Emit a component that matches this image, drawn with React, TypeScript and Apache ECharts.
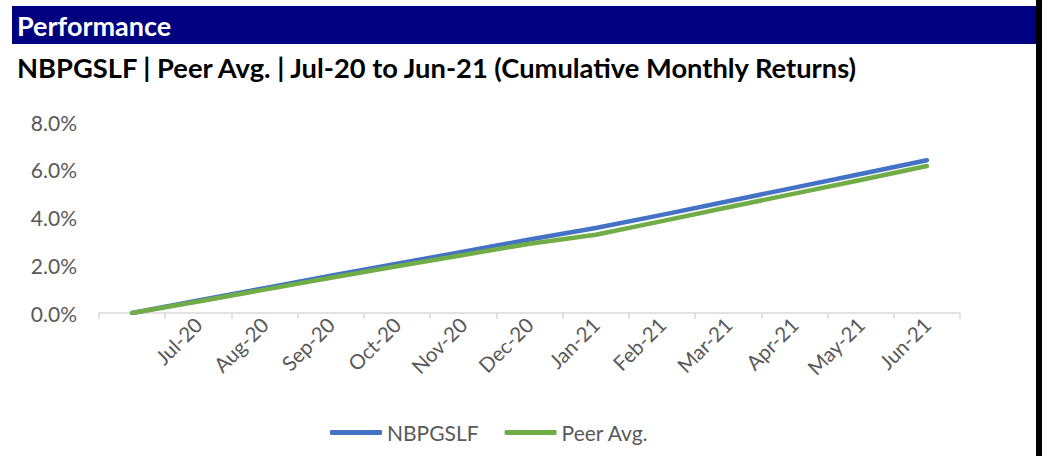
import React, { useEffect, useRef } from "react";
import * as echarts from "echarts";

const categories = ["", "Jul-20", "Aug-20", "Sep-20", "Oct-20", "Nov-20", "Dec-20", "Jan-21", "Feb-21", "Mar-21", "Apr-21", "May-21", "Jun-21"];
const fundValues = [0, 0.52, 1.04, 1.56, 2.06, 2.57, 3.08, 3.56, 4.11, 4.68, 5.25, 5.82, 6.40];
const peerValues = [0, 0.48, 0.98, 1.48, 1.96, 2.43, 2.90, 3.28, 3.85, 4.43, 5.00, 5.57, 6.16];
const yTicks = [0, 2, 4, 6, 8];
const headerTitle = "Performance";
const subTitle = "NBPGSLF | Peer Avg. | Jul-20 to Jun-21 (Cumulative Monthly Returns)";

const FONT = "Lato, 'Open Sans', sans-serif";

export default function App() {
  const ref = useRef<HTMLDivElement>(null);
  useEffect(() => {
    if (!ref.current) return;
    const chart = echarts.init(ref.current, undefined, { renderer: "svg" });
    chart.setOption({
      animation: false,
      backgroundColor: "#ffffff",
      textStyle: { fontFamily: FONT },
      graphic: [
        { type: "rect", shape: { x: 12, y: 6, width: 1026, height: 38 }, style: { fill: "#000080" } },
        { type: "rect", shape: { x: 1036, y: 0, width: 6, height: 456 }, style: { fill: "#000000" } },
        {
          type: "text", x: 17, y: 25,
          style: { text: headerTitle, fill: "#ffffff", font: `bold 27px ${FONT}`, verticalAlign: "middle" },
        },
        {
          type: "text", x: 17, y: 67,
          style: { text: subTitle, fill: "#000000", font: `bold 27.3px ${FONT}`, verticalAlign: "middle" },
        },
      ],
      grid: { left: 99, right: 92, top: 122, bottom: 143, containLabel: false },
      legend: {
        top: 422,
        left: 330,
        padding: 0,
        icon: "roundRect",
        itemWidth: 52,
        itemHeight: 5,
        itemGap: 26,
        textStyle: { fontSize: 21, color: "#595959", fontFamily: FONT },
        data: ["NBPGSLF", "Peer Avg."],
      },
      xAxis: {
        type: "category",
        data: categories,
        boundaryGap: true,
        axisLine: { show: true, lineStyle: { color: "#d9d9d9", width: 1.5 } },
        axisTick: { show: true, alignWithLabel: false, length: 6, lineStyle: { color: "#d9d9d9", width: 1.5 } },
        axisLabel: { interval: 0, rotate: 45, fontSize: 20.5, color: "#595959", margin: 8, fontFamily: FONT },
        splitLine: { show: false },
      },
      yAxis: {
        type: "value",
        min: yTicks[0],
        max: yTicks[yTicks.length - 1],
        interval: 2,
        axisLine: { show: false },
        axisTick: { show: false },
        splitLine: { show: false },
        axisLabel: {
          fontSize: 21, color: "#595959", margin: 22, fontFamily: FONT,
          formatter: (v: number) => v.toFixed(1) + "%",
        },
      },
      series: [
        {
          name: "NBPGSLF", type: "line", data: fundValues, showSymbol: false, symbol: "none",
          lineStyle: { color: "#4472C4", width: 4.5, cap: "round", join: "round" },
          itemStyle: { color: "#4472C4" },
        },
        {
          name: "Peer Avg.", type: "line", data: peerValues, showSymbol: false, symbol: "none",
          lineStyle: { color: "#70AD47", width: 4.5, cap: "round", join: "round" },
          itemStyle: { color: "#70AD47" },
        },
      ],
    });
    return () => chart.dispose();
  }, []);
  return <div ref={ref} style={{ position: "absolute", left: 0, top: 0, width: 1052, height: 456 }} />;
}
